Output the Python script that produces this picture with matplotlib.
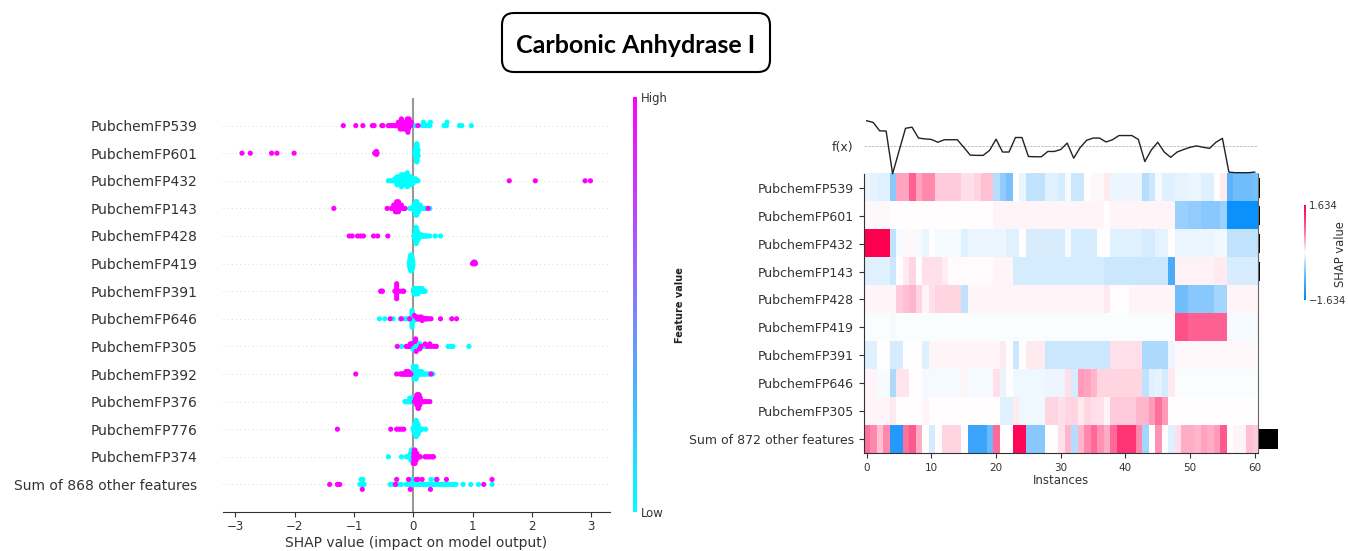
import numpy as np
import matplotlib
matplotlib.use('Agg')
import matplotlib.pyplot as plt
from matplotlib.colors import LinearSegmentedColormap, Normalize
from matplotlib.cm import ScalarMappable
from matplotlib.patches import FancyBboxPatch

W, H = 1348, 551
title = 'Carbonic Anhydrase I'

# ---------------- beeswarm data (left panel) ----------------
swarm_features = ['PubchemFP539', 'PubchemFP601', 'PubchemFP432', 'PubchemFP143',
                  'PubchemFP428', 'PubchemFP419', 'PubchemFP391', 'PubchemFP646',
                  'PubchemFP305', 'PubchemFP392', 'PubchemFP376', 'PubchemFP776',
                  'PubchemFP374', 'Sum of 868 other features']

# shap values of the points with high / low feature value
fp539_hi = [-1.18, -0.97, -0.85, -0.69, -0.66, -0.53, -0.51, -0.42, -0.38, -0.36, -0.33, -0.31,
            -0.29, -0.28, -0.26, -0.25, -0.24, -0.23, -0.22, -0.21, -0.2, -0.2, -0.19, -0.18,
            -0.17, -0.17, -0.16, -0.15, -0.15, -0.14, -0.13, -0.13, -0.12, -0.11, -0.1, -0.1,
            -0.09, -0.08, -0.08, -0.07, -0.06, -0.05, -0.04, -0.03, 0.08]
fp539_lo = [-0.2, -0.1, -0.08, 0.03, 0.15, 0.17, 0.2, 0.22, 0.25, 0.28, 0.29, 0.52, 0.56, 0.57,
            0.78, 0.82, 0.98]
fp601_hi = [-2.89, -2.75, -2.39, -2.3, -2.01, -0.65, -0.64, -0.64, -0.63, -0.63, -0.62, -0.62, -0.61]
fp601_lo = [0.03] * 4 + [0.04] * 8 + [0.05] * 12 + [0.06] * 12 + [0.07] * 8 + [0.08] * 4
fp432_hi = [1.62, 2.06, 2.9, 2.99]
fp432_lo = [-0.42, -0.38, -0.35, -0.33, -0.31, -0.3, -0.29, -0.28, -0.27, -0.27, -0.26, -0.25,
            -0.25, -0.24, -0.23, -0.23, -0.22, -0.22, -0.21, -0.2, -0.2, -0.19, -0.19, -0.18,
            -0.18, -0.17, -0.17, -0.16, -0.16, -0.15, -0.15, -0.14, -0.14, -0.13, -0.13, -0.12,
            -0.12, -0.11, -0.11, -0.1, -0.1, -0.09, -0.09, -0.08, -0.07, -0.06, -0.06, -0.05,
            -0.04, -0.03, -0.02, -0.01, 0.0, 0.02, 0.04, 0.06, 0.08]
fp143_hi = [-1.34, -0.44, -0.37, -0.35, -0.34, -0.33, -0.32, -0.31, -0.3, -0.3, -0.29, -0.29,
            -0.28, -0.28, -0.27, -0.27, -0.26, -0.26, -0.25, -0.25, -0.24, -0.23, -0.22, -0.21,
            -0.2, -0.18, -0.16, -0.14, 0.25]
fp143_lo = [-0.06, -0.04, -0.02, -0.01, 0.0, 0.01, 0.02, 0.02, 0.03, 0.03, 0.03, 0.04, 0.04,
            0.05, 0.05, 0.05, 0.06, 0.06, 0.07, 0.07, 0.08, 0.08, 0.09, 0.1, 0.11, 0.12, 0.13,
            0.15, 0.17, 0.2, 0.22, 0.28]
fp428_hi = [-1.08, -1.03, -0.94, -0.89, -0.84, -0.67, -0.6, -0.43]
fp428_lo = [0.01, 0.02, 0.02, 0.03, 0.03, 0.03, 0.03, 0.04, 0.04, 0.04, 0.04, 0.04, 0.05, 0.05,
            0.05, 0.05, 0.05, 0.05, 0.06, 0.06, 0.06, 0.06, 0.06, 0.07, 0.07, 0.07, 0.07, 0.08,
            0.08, 0.08, 0.09, 0.09, 0.1, 0.1, 0.11, 0.12, 0.13, 0.14, 0.15, 0.16, 0.18, 0.2,
            0.22, 0.25, 0.28, 0.37, 0.46, 0.04, 0.05, 0.06, 0.03, 0.07, 0.05]
fp419_hi = [1.0, 1.01, 1.02, 1.02, 1.03, 1.04, 1.04, 1.05]
fp419_lo = [-0.06] * 5 + [-0.05] * 10 + [-0.04] * 12 + [-0.03] * 12 + [-0.02] * 9 + [-0.01] * 5
fp391_hi = [-0.55, -0.53, -0.52, -0.31, -0.3, -0.29, -0.28, -0.28, -0.28, -0.28, -0.28, -0.28,
            -0.28, -0.27, -0.26, -0.25, -0.2, -0.17, -0.16]
fp391_lo = [0.0, 0.01, 0.01, 0.02, 0.02, 0.03, 0.03, 0.03, 0.04, 0.04, 0.05, 0.05, 0.05, 0.06,
            0.06, 0.07, 0.07, 0.08, 0.08, 0.08, 0.09, 0.09, 0.1, 0.1, 0.11, 0.11, 0.12, 0.12,
            0.13, 0.13, 0.14, 0.14, 0.15, 0.15, 0.16, 0.17, 0.18, 0.19, 0.2, 0.02, 0.04, 0.06]
fp646_hi = [-0.39, -0.2, -0.06, 0.02, 0.05, 0.07, 0.09, 0.1, 0.12, 0.14, 0.15, 0.17, 0.19, 0.21,
            0.23, 0.25, 0.3, 0.46, 0.65, 0.73, 0.08]
fp646_lo = [-0.57, -0.48, -0.34, -0.22, -0.14, -0.1, -0.07, -0.05, -0.04, -0.03, -0.03, -0.02,
            -0.02, -0.02, -0.02, -0.02, -0.02, -0.02, -0.02, -0.02, -0.01, -0.01, -0.01, -0.01,
            -0.01, -0.01, 0.0, 0.0, 0.0, 0.0, 0.01, 0.01, 0.02, 0.03, 0.05, 0.08, 0.12, 0.15,
            0.22, 0.28]
fp305_hi = [-0.27, -0.12, -0.1, -0.08, -0.07, -0.05, -0.03, 0.03, 0.05, 0.11, 0.13, 0.2, 0.24,
            0.28, 0.3, 0.35, 0.39, 0.04]
fp305_lo = [-0.2, -0.05, -0.04, -0.03, -0.02, -0.01, -0.01, 0.0, 0.0, 0.0, 0.01, 0.01, 0.01,
            0.02, 0.02, 0.02, 0.02, 0.03, 0.03, 0.03, 0.04, 0.04, 0.05, 0.05, 0.06, 0.06, 0.07,
            0.08, 0.09, 0.1, 0.11, 0.12, 0.14, 0.16, 0.18, 0.2, 0.22, 0.25, 0.28, 0.59, 0.64,
            0.67, 0.94]
fp392_hi = [-0.97, -0.28, -0.22, -0.2, -0.18, -0.16, -0.15, -0.14, -0.13, -0.12, -0.11, -0.1,
            -0.09, -0.08, -0.07, -0.06, -0.05, -0.04, 0.3]
fp392_lo = [0.0, 0.0, 0.01, 0.01, 0.01, 0.02, 0.02, 0.02, 0.02, 0.03, 0.03, 0.03, 0.03, 0.04,
            0.04, 0.04, 0.05, 0.05, 0.05, 0.06, 0.06, 0.07, 0.07, 0.08, 0.09, 0.1, 0.11, 0.12,
            0.13, 0.14, 0.15, 0.17, 0.19, 0.21, 0.24, 0.27, 0.29, 0.33, -0.02, -0.01, 0.0, 0.06]
fp376_hi = [0.02, 0.03, 0.04, 0.04, 0.05, 0.05, 0.06, 0.06, 0.06, 0.07, 0.07, 0.07, 0.07, 0.08,
            0.08, 0.08, 0.08, 0.08, 0.09, 0.09, 0.09, 0.09, 0.09, 0.1, 0.1, 0.1, 0.1, 0.11, 0.11,
            0.11, 0.12, 0.12, 0.13, 0.14, 0.15, 0.16, 0.17, 0.2, 0.24, 0.28, 0.06]
fp376_lo = [-0.14, -0.12, -0.1, -0.09, -0.08, -0.07, -0.06, -0.06, -0.05, -0.05, -0.04, -0.04,
            -0.03, -0.03, -0.02, -0.02, -0.01, -0.01, 0.0, 0.0]
fp776_hi = [-1.28, -0.38, -0.28, -0.24, -0.2, -0.16]
fp776_lo = [0.0, 0.0, 0.01, 0.01, 0.01, 0.02, 0.02, 0.02, 0.02, 0.03, 0.03, 0.03, 0.03, 0.03,
            0.04, 0.04, 0.04, 0.04, 0.04, 0.04, 0.05, 0.05, 0.05, 0.05, 0.05, 0.05, 0.05, 0.06,
            0.06, 0.06, 0.06, 0.06, 0.06, 0.07, 0.07, 0.07, 0.07, 0.07, 0.08, 0.08, 0.08, 0.08,
            0.09, 0.09, 0.09, 0.1, 0.1, 0.11, 0.12, 0.13, 0.15, 0.21, 0.02, 0.03, 0.05]
fp374_hi = [0.0, 0.01, 0.01, 0.01, 0.02, 0.02, 0.02, 0.02, 0.03, 0.03, 0.03, 0.03, 0.04, 0.04,
            0.04, 0.05, 0.05, 0.06, 0.06, 0.07, 0.08, 0.09, 0.1, 0.12, 0.2, 0.22, 0.25, 0.28,
            0.3, 0.33, 0.34, 0.05, 0.03]
fp374_lo = [-0.42, -0.2, -0.12, -0.1, -0.08, -0.07, -0.06, -0.05, -0.05, -0.04, -0.04, -0.03,
            -0.03, -0.03, -0.02, -0.02, -0.02, -0.02, -0.01, -0.01, -0.01, -0.01, 0.0, 0.0, 0.0,
            0.0, -0.03, -0.04]
other868_hi = [-1.41, -1.28, -1.24, -0.86, -0.3, -0.28, -0.08, 0.05, 0.08, 0.29, 0.4, 0.56,
               1.19, 1.33, 0.15, -0.05]
other868_lo = [-0.9, -0.88, -0.87, -0.85, -0.83, -0.39, -0.34, -0.26, -0.2, -0.12, -0.1, -0.07,
               -0.05, -0.03, -0.02, 0.0, 0.02, 0.05, 0.08, 0.1, 0.13, 0.16, 0.18, 0.2, 0.23,
               0.26, 0.28, 0.3, 0.33, 0.36, 0.38, 0.4, 0.43, 0.46, 0.5, 0.53, 0.57, 0.6, 0.64,
               0.68, 0.72, 0.84, 0.97, 1.1, 1.33]

swarm_hi = [fp539_hi, fp601_hi, fp432_hi, fp143_hi, fp428_hi, fp419_hi, fp391_hi,
            fp646_hi, fp305_hi, fp392_hi, fp376_hi, fp776_hi, fp374_hi, other868_hi]
swarm_lo = [fp539_lo, fp601_lo, fp432_lo, fp143_lo, fp428_lo, fp419_lo, fp391_lo,
            fp646_lo, fp305_lo, fp392_lo, fp376_lo, fp776_lo, fp374_lo, other868_lo]
swarm_ticks = [-3, -2, -1, 0, 1, 2, 3]

# ---------------- heatmap data (right panel) ----------------
heat_features = ['PubchemFP539', 'PubchemFP601', 'PubchemFP432', 'PubchemFP143',
                 'PubchemFP428', 'PubchemFP419', 'PubchemFP391', 'PubchemFP646',
                 'PubchemFP305', 'Sum of 872 other features']
heat_fp539 = [-0.1, -0.12, -0.15, -0.15, -0.6, 0.45, 0.45, 0.85, 0.45, 0.6,
              0.6, 0.25, 0.25, 0.25, 0.25, 0.15, 0.15, 0.2, 0.3, 0.3,
              -0.35, -0.55, -0.7, 0.0, -0.1, -0.3, -0.3, -0.3, -0.15, -0.15,
              -0.2, -0.05, -0.25, -0.25, 0.0, 0.03, 0.03, 0.1, -0.08, -0.08,
              -0.08, -0.08, -0.08, -0.35, -0.25, -0.05, -0.15, -0.15, -0.12, -0.12,
              -0.1, -0.1, -0.15, -0.15, 0.0, 0.1, -0.9, -0.75, -0.75, -0.75, -0.7]
heat_fp601 = [0.03, 0.03, 0.03, 0.03, 0.01, 0.0, 0.0, 0.0, 0.0, 0.0,
              0.0, 0.0, 0.0, 0.0, 0.0, 0.0, 0.0, 0.0, 0.0, 0.0,
              0.05, 0.05, 0.05, 0.05, 0.05, 0.05, 0.05, 0.05, 0.05, 0.05,
              0.05, 0.05, 0.05, 0.05, 0.05, 0.05, 0.05, 0.0, 0.05, 0.05,
              0.05, 0.05, 0.05, 0.05, 0.05, 0.05, 0.05, 0.05, -0.5, -0.5,
              -0.55, -0.55, -0.6, -0.6, -0.6, -0.5, -1.5, -1.5, -1.5, -1.5, -1.5]
heat_fp432 = [1.634, 1.634, 1.634, 1.634, -0.3, -0.05, 0.03, 0.03, -0.05, -0.1,
              0.0, -0.05, -0.05, -0.05, -0.05, -0.15, -0.1, -0.1, -0.1, -0.1,
              -0.08, -0.08, -0.15, -0.15, 0.0, -0.18, -0.18, -0.18, -0.18, -0.18,
              -0.18, -0.05, -0.2, -0.2, -0.2, -0.2, 0.0, 0.0, -0.15, -0.15,
              -0.15, -0.15, -0.15, -0.2, -0.2, -0.12, -0.12, 0.0, -0.1, -0.1,
              -0.1, -0.1, -0.1, -0.1, -0.06, -0.06, -0.3, -0.3, -0.3, -0.3, -0.3]
heat_fp143 = [-0.15, -0.15, -0.15, -0.15, -0.25, 0.0, 0.1, 0.2, 0.0, 0.15,
              0.15, 0.15, 0.08, 0.02, 0.02, 0.02, 0.02, 0.02, 0.02, 0.02,
              0.05, 0.05, 0.05, -0.2, -0.2, -0.2, -0.2, -0.2, -0.2, -0.2,
              -0.2, -0.2, -0.2, -0.2, -0.2, -0.2, -0.2, -0.25, -0.25, -0.25,
              -0.25, -0.25, -0.25, -0.25, -0.25, -0.25, -0.25, -1.0, 0.06, 0.06,
              0.06, 0.06, 0.06, 0.06, 0.1, 0.1, -0.18, -0.18, -0.18, -0.18, -0.18]
heat_fp428 = [0.05, 0.05, 0.05, 0.05, 0.05, 0.25, 0.3, 0.35, 0.2, 0.05,
              0.15, 0.2, 0.2, 0.2, 0.2, -0.3, 0.05, 0.05, 0.05, 0.05,
              0.05, 0.05, 0.05, 0.05, 0.05, 0.05, 0.05, 0.05, 0.05, 0.05,
              0.05, 0.05, 0.05, 0.05, 0.05, 0.05, 0.05, 0.1, 0.01, 0.01,
              0.01, 0.04, 0.04, 0.04, 0.04, 0.04, 0.04, 0.04, -0.75, -0.75,
              -0.6, -0.6, -0.6, -0.6, -0.45, -0.45, 0.04, 0.04, 0.04, 0.04, 0.04]
heat_fp419 = [-0.02, -0.02, -0.02, -0.02, -0.05, -0.02, -0.02, -0.02, -0.02, -0.02,
              -0.02, -0.02, -0.02, -0.02, -0.02, -0.02, -0.02, -0.02, -0.02, -0.02,
              -0.02, -0.02, -0.02, -0.02, -0.02, -0.02, -0.02, -0.02, -0.02, -0.02,
              -0.02, -0.02, -0.02, -0.02, -0.02, -0.02, -0.02, -0.02, -0.02, -0.02,
              -0.02, -0.02, -0.02, -0.02, -0.02, -0.02, -0.02, -0.02, 0.95, 0.95,
              0.85, 0.85, 0.85, 0.85, 0.85, 0.85, -0.04, -0.04, -0.04, -0.04, -0.04]
heat_fp391 = [-0.15, -0.15, 0.0, 0.0, -0.2, -0.2, 0.0, 0.0, 0.0, -0.15,
              0.04, 0.04, 0.04, 0.04, 0.04, 0.04, 0.04, 0.04, 0.04, 0.04,
              0.04, 0.1, 0.0, -0.25, 0.0, 0.1, 0.1, 0.1, -0.25, -0.25,
              -0.25, -0.25, -0.25, -0.25, -0.25, -0.25, -0.25, -0.25, 0.15, 0.15,
              0.15, 0.15, 0.15, -0.4, -0.4, -0.4, -0.4, -0.08, 0.03, 0.03,
              0.03, 0.03, 0.03, 0.03, 0.03, 0.03, 0.03, 0.03, 0.03, 0.03, 0.03]
heat_fp646 = [0.04, 0.04, -0.03, -0.03, -0.4, 0.12, 0.12, 0.0, 0.0, -0.05,
              -0.05, -0.05, -0.05, -0.05, -0.05, 0.04, -0.05, -0.05, -0.05, -0.05,
              0.15, -0.1, 0.0, -0.07, -0.07, -0.07, -0.07, -0.07, -0.08, -0.08,
              -0.08, 0.15, -0.18, 0.5, 0.45, 0.35, 0.2, 0.2, 0.2, 0.2,
              0.2, 0.2, 0.2, -0.3, -0.15, -0.12, -0.2, 0.1, -0.02, -0.02,
              -0.02, -0.02, -0.02, -0.02, -0.02, -0.02, -0.02, -0.02, -0.02, -0.02, -0.02]
heat_fp305 = [0.04, 0.04, 0.04, 0.04, 0.1, 0.01, 0.01, 0.01, 0.01, 0.05,
              0.01, 0.01, 0.01, 0.01, 0.01, 0.01, 0.01, 0.01, 0.01, 0.01,
              0.01, -0.15, -0.15, 0.1, -0.07, -0.07, -0.07, -0.07, 0.2, 0.2,
              0.15, 0.2, 0.2, 0.1, 0.2, 0.15, 0.15, 0.05, 0.25, 0.25,
              0.25, 0.25, 0.35, 0.35, 0.5, 0.75, 0.5, 0.0, 0.0, 0.0,
              0.0, 0.0, 0.0, 0.0, 0.0, 0.0, 0.0, 0.0, 0.0, 0.0, 0.0]
heat_other = [0.75, 0.6, 0.3, 0.6, -1.3, -1.3, 0.75, 0.9, 0.4, 0.0,
              -0.2, 0.0, 0.2, 0.2, 0.2, 0.0, -1.1, -1.1, -1.1, -0.8,
              0.8, 0.0, 0.0, 1.55, 1.55, -0.6, -0.6, -0.6, 0.0, 0.0,
              0.15, 0.35, -0.35, 0.35, 0.6, 0.8, 0.55, 0.4, 0.8, 1.15,
              1.15, 1.15, 0.6, -0.45, 0.0, 0.55, 0.0, -0.15, 0.15, 0.4,
              0.4, 0.35, 0.45, 0.4, 0.5, 0.9, 0.0, 0.05, 0.05, 0.3, 0.25]
heat_rows = [heat_fp539, heat_fp601, heat_fp432, heat_fp143, heat_fp428,
             heat_fp419, heat_fp391, heat_fp646, heat_fp305, heat_other]

# model output per instance (relative), drawn as the f(x) line
fx_values = [0.9, 0.84, 0.54, 0.53, -1.0, -0.18, 0.63, 0.67, 0.28, 0.25,
             0.23, 0.13, 0.22, 0.22, 0.22, -0.05, -0.33, -0.34, -0.34, -0.16,
             0.24, -0.22, -0.22, 0.3, 0.3, -0.38, -0.39, -0.39, -0.2, -0.2,
             -0.13, 0.1, -0.44, -0.06, 0.2, 0.28, 0.28, 0.14, 0.22, 0.37,
             0.37, 0.37, 0.23, -0.56, -0.15, 0.13, -0.22, -0.41, -0.22, -0.13,
             -0.05, 0.0, -0.05, -0.09, 0.13, 0.27, -0.94, -0.96, -0.96, -0.96, -0.94]
# relative importance bars at the right of the heatmap
bar_values = [0.11, 0.11, 0.1, 0.08, 0.07, 0.02, 0.02, 0.02, 0.02, 1.0]
heat_vmax = 1.634
heat_xticks = [0, 10, 20, 30, 40, 50, 60]


def swarm_offsets(vals, row_height=0.4, nbins=100):
    # same stacking rule as shap's beeswarm
    vals = np.asarray(vals, float)
    quant = np.round(nbins * (vals - vals.min()) / (vals.max() - vals.min() + 1e-8))
    inds = np.argsort(quant, kind='stable')
    ys = np.zeros(len(vals))
    layer, last = 0, None
    for i in inds:
        if quant[i] != last:
            layer = 0
        ys[i] = np.ceil(layer / 2) * ((layer % 2) * 2 - 1)
        layer += 1
        last = quant[i]
    ys *= 0.9 * (row_height / np.max(ys + 1))
    return ys


axis_color = '#333333'
fig = plt.figure(figsize=(W / 100, H / 100), dpi=100)

# ---------------- title box ----------------
box = FancyBboxPatch((5.02, 4.79), 2.68, 0.59, boxstyle='round,pad=0,rounding_size=0.12',
                     transform=fig.dpi_scale_trans, fc='white', ec='black', lw=1.5)
fig.add_artist(box)
fig.text(636 / W, 1 - 53 / H, title, ha='center', va='baseline', fontsize=18,
         fontweight='bold', family=['Lato', 'DejaVu Sans'])

# ---------------- beeswarm ----------------
ax = fig.add_axes([223 / W, 39 / H, 387 / W, 414 / H])
n = len(swarm_features)
for k in range(n):
    pos = n - 1 - k
    lo = np.asarray(swarm_lo[k], float)
    hi = np.asarray(swarm_hi[k], float)
    vals = np.concatenate([lo, hi])
    feat = np.concatenate([np.zeros(len(lo)), np.ones(len(hi))])
    ys = swarm_offsets(vals)
    ax.axhline(pos, color='#cccccc', lw=0.6, dashes=(1, 4), zorder=-1)
    ax.scatter(vals, pos + ys, c=feat, cmap='cool', vmin=0, vmax=1, s=14,
               linewidth=0, zorder=3)
ax.axvline(0, color='#999999', lw=1.5, zorder=-1)
ax.set_xlim(-3.21, 3.32)
ax.set_ylim(-1, n)
ax.set_yticks(range(n))
ax.set_yticklabels(swarm_features[::-1], fontsize=10, color=axis_color)
ax.set_xticks(swarm_ticks)
ax.set_xticklabels([f'{t}'.replace('-', '\u2212') for t in swarm_ticks], fontsize=8.5)
ax.tick_params('y', length=0, pad=18.5)
ax.tick_params('x', color=axis_color, labelcolor=axis_color, length=3.5, pad=2.5)
for s in ['top', 'right', 'left']:
    ax.spines[s].set_visible(False)
ax.spines['bottom'].set_color(axis_color)
ax.set_xlabel('SHAP value (impact on model output)', fontsize=10, color=axis_color, labelpad=2)

cax = fig.add_axes([633 / W, 39 / H, 4 / W, 415 / H])
cb = fig.colorbar(ScalarMappable(norm=Normalize(0, 1), cmap='cool'), cax=cax, ticks=[0, 1])
cb.set_ticklabels(['Low', 'High'])
cb.ax.tick_params(labelsize=8.4, length=0, pad=3, labelcolor=axis_color)
cb.outline.set_visible(False)
fig.text(680 / W, 1 - 305 / H, 'Feature value', rotation=90, ha='center', va='center',
         fontsize=7, fontweight='bold', color='#222222')

# ---------------- heatmap ----------------
# blue -> white -> red, a little stronger in the middle like shap's scale
blue = np.array([0.0, 0.543, 0.983])
red = np.array([1.0, 0.0, 0.318])
white = np.ones(3)
steps = np.linspace(0, 1, 101)
grad = steps * (1.4 - 0.4 * steps)
cm_colors = [white + (blue - white) * g for g in grad[::-1]] + \
            [white + (red - white) * g for g in grad[1:]]
red_blue = LinearSegmentedColormap.from_list('red_blue', cm_colors)

data = np.array(heat_rows)
hx = fig.add_axes([863.5 / W, (H - 453) / H, 394.5 / W, 349 / H])
hx.imshow(data, aspect='auto', interpolation='nearest', cmap=red_blue,
          vmin=-heat_vmax, vmax=heat_vmax)
fx = np.array(fx_values)
hx.axhline(-1.5, color='#aaaaaa', linestyle='--', lw=0.5)
hx.plot(np.arange(len(fx)), -fx / np.abs(fx).max() - 1.5, color='#222222', lw=1)
nrow = data.shape[0]
bars = hx.barh(np.arange(nrow), np.array(bar_values) * data.shape[1] / 20, 0.7,
               left=data.shape[1] - 0.5, color='black', align='center')
for b in bars:
    b.set_clip_on(False)
hx.set_xlim(-0.5, data.shape[1] - 0.5)
hx.set_ylim(nrow - 0.5, -3)
hx.set_yticks([-1.5] + list(range(nrow)))
hx.set_yticklabels(['f(x)'] + heat_features, fontsize=9, color=axis_color)
hx.yaxis.get_major_ticks()[0].tick1line.set_visible(False)
hx.set_xticks(heat_xticks)
hx.set_xticklabels([str(t) for t in heat_xticks], fontsize=7.5, color=axis_color)
hx.tick_params(color=axis_color, length=3.5)
hx.set_xlabel('Instances', fontsize=8.5, color=axis_color, labelpad=1)
hx.spines['top'].set_visible(False)
hx.spines['left'].set_bounds(nrow - 0.5, -0.5)
hx.spines['right'].set_bounds(nrow - 0.5, -0.5)
hx.spines['left'].set_color(axis_color)
hx.spines['bottom'].set_color(axis_color)
hx.spines['right'].set_color('#666666')

hcax = fig.add_axes([1304 / W, (H - 300) / H, 2 / W, 95 / H])
hcb = fig.colorbar(ScalarMappable(norm=Normalize(-heat_vmax, heat_vmax), cmap=red_blue),
                   cax=hcax, ticks=[-heat_vmax, heat_vmax])
hcb.set_ticklabels(['\u22121.634', '1.634'])
hcb.ax.tick_params(labelsize=7.3, length=0, pad=2, labelcolor=axis_color)
hcb.outline.set_visible(False)
fig.text(1341 / W, 1 - 254 / H, 'SHAP value', rotation=90, ha='center', va='center',
         fontsize=8.3, color=axis_color)

fig.savefig('out.png', dpi=100)
